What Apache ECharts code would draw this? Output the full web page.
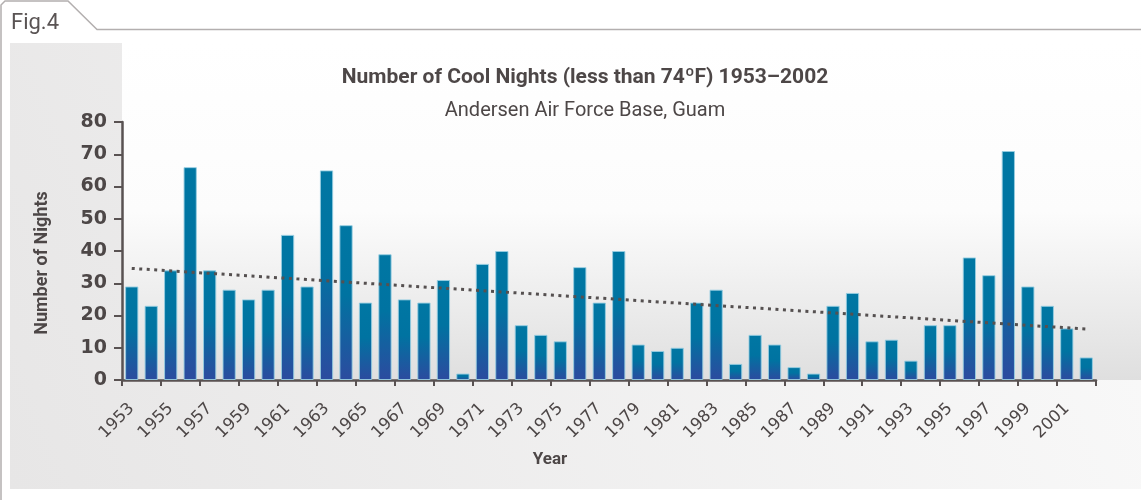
<!DOCTYPE html>
<html>
<head>
<meta charset="utf-8">
<script src="https://cdn.jsdelivr.net/npm/echarts@6/dist/echarts.min.js"></script>
<style>
html,body{margin:0;padding:0;background:#fff;}
#chart{width:1141px;height:500px;}
</style>
</head>
<body>
<div id="chart"></div>
<script>
const years = ['1953','1954','1955','1956','1957','1958','1959','1960','1961','1962',
  '1963','1964','1965','1966','1967','1968','1969','1970','1971','1972',
  '1973','1974','1975','1976','1977','1978','1979','1980','1981','1982',
  '1983','1984','1985','1986','1987','1988','1989','1990','1991','1992',
  '1993','1994','1995','1996','1997','1998','1999','2000','2001','2002'];
const coolNights = [29,23,34,66,34,28,25,28,45,29,
  65,48,24,39,25,24,31,2,36,40,
  17,14,12,35,24,40,11,9,10,24,
  28,5,14,11,4,2,23,27,12,12.5,
  6,17,17,38,32.5,71,29,23,16,7];
const trendStart = ['1953', 34.6];
const trendEnd = ['2002', 15.8];
const yTicks = [0,10,20,30,40,50,60,70,80];

const textColor = '#4d4747';
const chart = echarts.init(document.getElementById('chart'));
chart.setOption({
  animation: false,
  backgroundColor: '#ffffff',
  graphic: [
    { type: 'rect', z: -10, silent: true,
      shape: { x: 10, y: 43, width: 1131, height: 446 },
      style: { fill: new echarts.graphic.LinearGradient(0, 1, 1, 0, [
        { offset: 0, color: '#e7e6e6' }, { offset: 1, color: '#fafafa' }]) } },
    { type: 'rect', z: -9, silent: true,
      shape: { x: 122, y: 43, width: 1019, height: 337 },
      style: { fill: new echarts.graphic.LinearGradient(0, 0, 0, 1, [
        { offset: 0, color: '#ffffff' }, { offset: 0.5, color: '#fcfcfc' },
        { offset: 1, color: '#dfdfdf' }]) } },
    { type: 'polyline', z: -8, silent: true,
      shape: { points: [[1, 500], [1, 5], [5, 1], [68, 1], [97, 29.5], [1141, 29.5]] },
      style: { stroke: '#b3afaf', lineWidth: 1.5, fill: null } },
    { type: 'text', z: 5, silent: true,
      style: { text: 'Fig.4', x: 11, y: 23, textVerticalAlign: 'middle',
        font: '22px Roboto', fill: '#5a5454' } }
  ],
  title: {
    text: 'Number of Cool Nights (less than 74ºF) 1953–2002',
    subtext: 'Andersen Air Force Base, Guam',
    left: 580, top: 62, textAlign: 'center', itemGap: 13,
    textStyle: { fontFamily: 'Roboto', fontWeight: 'bold', fontSize: 21, color: textColor },
    subtextStyle: { fontFamily: 'Roboto', fontWeight: 'normal', fontSize: 20, color: textColor }
  },
  grid: { left: 122, right: 45, top: 122, bottom: 120, containLabel: false },
  xAxis: {
    type: 'category', data: years,
    name: 'Year', nameLocation: 'middle', nameGap: 71,
    nameTextStyle: { fontFamily: 'Roboto', fontWeight: 'bold', fontSize: 17, color: textColor, padding: [0, 118, 0, 0] },
    axisLine: { lineStyle: { color: '#595252', width: 2.5 } },
    axisTick: { show: true, length: 6, lineStyle: { color: '#595252', width: 2 } },
    axisLabel: { interval: 1, rotate: 45, margin: 26, fontFamily: 'DejaVu Sans', fontSize: 16.5, color: textColor }
  },
  yAxis: {
    type: 'value', min: 0, max: 80, interval: 10,
    name: 'Number of Nights', nameLocation: 'middle', nameGap: 71,
    nameTextStyle: { fontFamily: 'Roboto', fontWeight: 'bold', fontSize: 18, color: textColor, padding: [0, 24, 0, 0] },
    axisLine: { show: true, lineStyle: { color: '#595252', width: 2.5 } },
    axisTick: { show: true, length: 8, lineStyle: { color: '#595252', width: 2 } },
    splitLine: { show: false },
    axisLabel: { margin: 15, fontFamily: 'DejaVu Sans', fontWeight: 'bold', fontSize: 19, color: textColor,
      formatter: v => yTicks.includes(v) ? String(v) : '' }
  },
  series: [{
    type: 'bar', data: coolNights, barCategoryGap: '32%',
    itemStyle: {
      color: new echarts.graphic.LinearGradient(0, 0, 0, 1, [
        { offset: 0, color: '#0077a3' }, { offset: 0.45, color: '#0073a1' }, { offset: 1, color: '#2c4b9f' }]),
      borderColor: 'rgba(150,205,225,0.9)', borderWidth: 1
    },
    markLine: {
      silent: true, symbol: ['none', 'none'], label: { show: false },
      lineStyle: { color: '#555050', width: 3, type: [3, 4.5], opacity: 1 },
      emphasis: { disabled: true },
      data: [[{ coord: trendStart }, { coord: trendEnd }]]
    }
  }]
});
</script>
</body>
</html>
